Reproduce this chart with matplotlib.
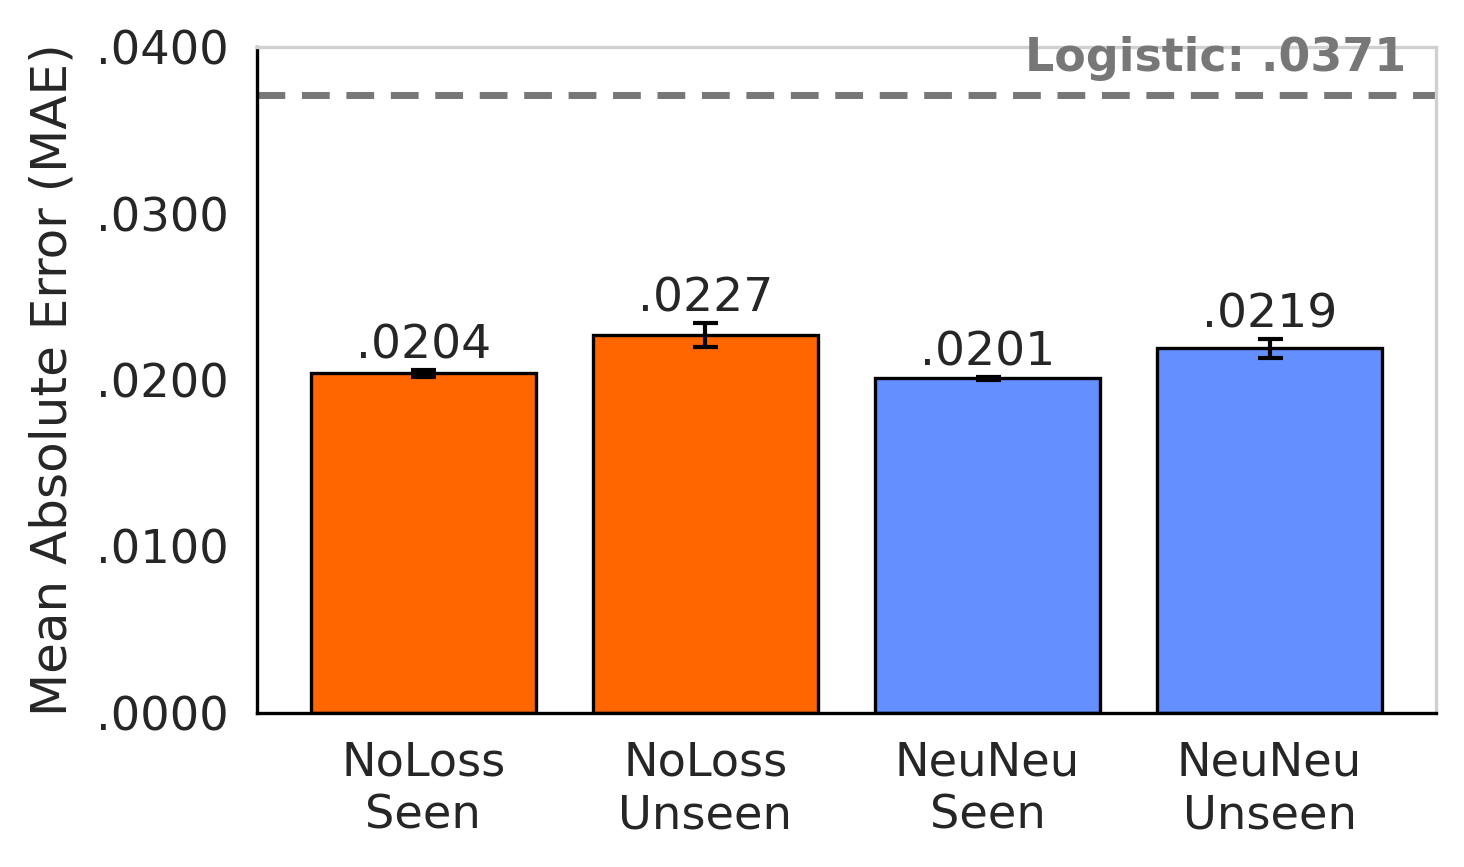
import matplotlib
matplotlib.use("Agg")
import matplotlib.pyplot as plt
from matplotlib.ticker import FuncFormatter

# ---- data ----
LABELS = ["NoLoss\nSeen", "NoLoss\nUnseen", "NeuNeu\nSeen", "NeuNeu\nUnseen"]
MAE = [0.0204, 0.0227, 0.0201, 0.0219]
ERR = [0.0002, 0.00072, 0.0001, 0.00057]
COLORS = ["#ff6600", "#ff6600", "#648fff", "#648fff"]
LOGISTIC = 0.0371
# -------------------------------------

plt.rcParams["font.family"] = "DejaVu Sans"
TXT = "#262626"

fig = plt.figure(figsize=(7.32, 4.335), dpi=200)
ax = fig.add_axes([257 / 1464, 1 - 713 / 867, (1436 - 257) / 1464, (713 - 47) / 867])

x = range(len(MAE))
ax.bar(x, MAE, width=0.8, color=COLORS, edgecolor="black", linewidth=1.2,
       yerr=ERR, capsize=4.5, error_kw=dict(elinewidth=1.5, capthick=1.5, ecolor="black"))

for xi, v, e in zip(x, MAE, ERR):
    ax.text(xi, v + e + 0.0001, ("%.4f" % v)[1:], ha="center", va="bottom",
            fontsize=17, color=TXT)

ax.axhline(LOGISTIC, color="#777777", linestyle="--", linewidth=2.5, dashes=(4, 2.4))
ax.text(0.975, 0.983, "Logistic: " + ("%.4f" % LOGISTIC)[1:], transform=ax.transAxes,
        ha="right", va="center", fontsize=16.5, fontweight="bold", color="#777777")

ax.set_xlim(-0.59, 3.59)
ax.set_ylim(0, 0.04)
ax.set_yticks([0, 0.01, 0.02, 0.03, 0.04])
ax.yaxis.set_major_formatter(FuncFormatter(lambda v, p: ("%.4f" % v)[1:]))
ax.set_xticks(list(x))
ax.set_xticklabels(LABELS, linespacing=1.22)
ax.tick_params(length=0, labelsize=16.7, labelcolor=TXT)
ax.tick_params(axis="y", pad=10)
ax.tick_params(axis="x", pad=10)
ax.set_ylabel("Mean Absolute Error (MAE)", fontsize=18, color=TXT, labelpad=7)

ax.spines["left"].set_color("black")
ax.spines["bottom"].set_color("black")
ax.spines["left"].set_linewidth(1.2)
ax.spines["bottom"].set_linewidth(1.2)
for s in ("top", "right"):
    ax.spines[s].set_color("#d0d0d0")
    ax.spines[s].set_linewidth(1.2)

fig.savefig("out.png", dpi=200)
